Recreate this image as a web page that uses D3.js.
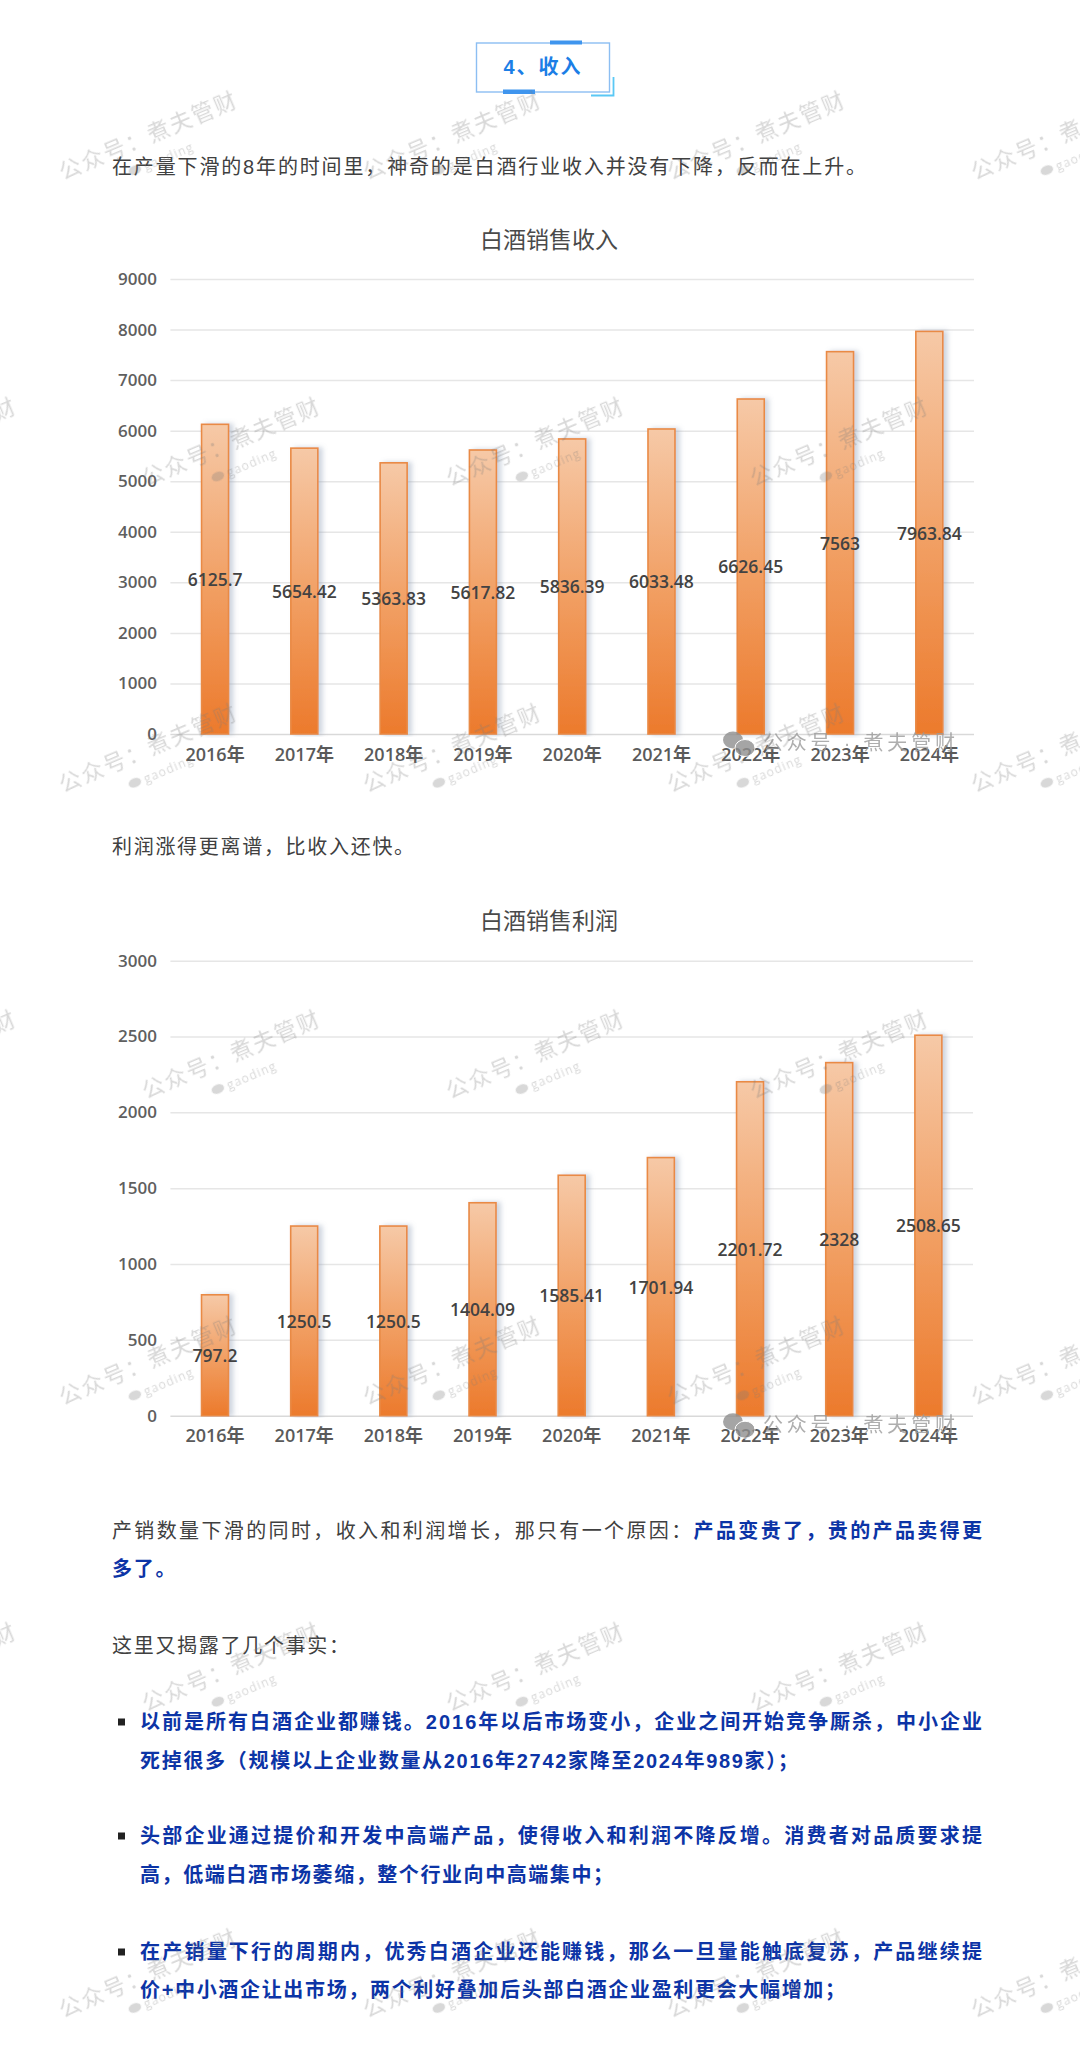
<!DOCTYPE html>
<html lang="zh">
<head>
<meta charset="utf-8">
<title>白酒销售收入与利润</title>
<script src="https://cdn.jsdelivr.net/npm/d3@7"></script>
<style>
html,body{margin:0;padding:0;background:#fff}
svg{display:block}
text{font-family:"Liberation Sans","Noto Sans CJK SC",sans-serif}
.num{font-family:"Open Sans","Noto Sans CJK SC",sans-serif;font-weight:600}
</style>
</head>
<body>
<svg id="page" width="1080" height="2051"></svg>
<script>
// ---------- data ----------
const years = ["2016年","2017年","2018年","2019年","2020年","2021年","2022年","2023年","2024年"];
const revenue = [6125.7,5654.42,5363.83,5617.82,5836.39,6033.48,6626.45,7563,7963.84];
const profit = [797.2,1250.5,1250.5,1404.09,1585.41,1701.94,2201.72,2328,2508.65];
const revenueTicks = [0,1000,2000,3000,4000,5000,6000,7000,8000,9000];
const profitTicks = [0,500,1000,1500,2000,2500,3000];
const titleRevenue = "白酒销售收入";
const titleProfit = "白酒销售利润";

const NORMAL = "#404040", BLUE = "#0c34a6";
const paragraphs = [
  {y:167, x:112, parts:[["在产量下滑的8年的时间里，神奇的是白酒行业收入并没有下降，反而在上升。",NORMAL,400]], end:866},
  {y:847, x:112, parts:[["利润涨得更离谱，比收入还快。",NORMAL,400]], ls:1.7},
  {y:1531, x:112, parts:[["产销数量下滑的同时，收入和利润增长，那只有一个原因：",NORMAL,400],["产品变贵了，贵的产品卖得更",BLUE,700]], end:982},
  {y:1569, x:112, parts:[["多了。",BLUE,700]], ls:1.7},
  {y:1646, x:112, parts:[["这里又揭露了几个事实：",NORMAL,400]], ls:1.7},
  {y:1722, x:140, bullet:true, parts:[["以前是所有白酒企业都赚钱。2016年以后市场变小，企业之间开始竞争厮杀，中小企业",BLUE,700]], end:982},
  {y:1761, x:140, parts:[["死掉很多（规模以上企业数量从2016年2742家降至2024年989家）；",BLUE,700]], end:798},
  {y:1836, x:140, bullet:true, parts:[["头部企业通过提价和开发中高端产品，使得收入和利润不降反增。消费者对品质要求提",BLUE,700]], end:982},
  {y:1875, x:140, parts:[["高，低端白酒市场萎缩，整个行业向中高端集中；",BLUE,700]], end:613},
  {y:1952, x:140, bullet:true, parts:[["在产销量下行的周期内，优秀白酒企业还能赚钱，那么一旦量能触底复苏，产品继续提",BLUE,700]], end:982},
  {y:1990, x:140, parts:[["价+中小酒企让出市场，两个利好叠加后头部白酒企业盈利更会大幅增加；",BLUE,700]], end:845}
];

// ---------- page ----------
const svg = d3.select("#page");
const defs = svg.append("defs");
const grad = defs.append("linearGradient").attr("id","barGrad")
  .attr("x1",0).attr("y1",0).attr("x2",0).attr("y2",1);
grad.append("stop").attr("offset","0%").attr("stop-color","#f6c9a7");
grad.append("stop").attr("offset","55%").attr("stop-color","#f19d60");
grad.append("stop").attr("offset","100%").attr("stop-color","#ec7a2c");
const shadow = defs.append("filter").attr("id","barShadow")
  .attr("x","-30%").attr("y","-5%").attr("width","170%").attr("height","106%");
shadow.append("feDropShadow").attr("dx",4).attr("dy",0).attr("stdDeviation",2.5)
  .attr("flood-color","#8496b0").attr("flood-opacity",0.4);

svg.append("rect").attr("width",1080).attr("height",2051).attr("fill","#fff");

// section heading
const head = svg.append("g");
head.append("rect").attr("x",476.5).attr("y",43).attr("width",133).attr("height",49)
  .attr("fill","none").attr("stroke","#8cbef2").attr("stroke-width",1.4);
head.append("rect").attr("x",550).attr("y",40.5).attr("width",32).attr("height",4).attr("fill","#3f95ee");
head.append("rect").attr("x",503).attr("y",89.5).attr("width",32).attr("height",4.5).attr("fill","#3f95ee");
head.append("path").attr("d","M591 95.5H613.5V77").attr("fill","none").attr("stroke","#5ac8f5").attr("stroke-width",1.8);
head.append("text").attr("x",543).attr("y",74).attr("text-anchor","middle")
  .attr("font-size",20).attr("font-weight",700).attr("letter-spacing",2).attr("fill","#1b7ee6").text("4、收入");

// paragraphs
paragraphs.forEach(p => {
  const t = svg.append("text").attr("x",p.x).attr("y",p.y+7).attr("font-size",20);
  p.parts.forEach(([s,c,w]) => t.append("tspan").attr("fill",c).attr("font-weight",w).text(s));
  const n = p.parts.reduce((a,q)=>a+q[0].length,0);
  if (p.end) {
    const natural = t.node().getComputedTextLength();
    t.attr("letter-spacing",(p.end-p.x-natural)/(n-1));
  } else t.attr("letter-spacing",p.ls);
  if (p.bullet) svg.append("rect").attr("x",118).attr("y",p.y-3.5).attr("width",7).attr("height",7).attr("fill","#222");
});

// ---------- charts ----------
function drawChart(cfg){
  const x = d3.scaleBand().domain(years).range([170.4,cfg.right]).paddingInner(0.6975).paddingOuter(0.349);
  const y = d3.scaleLinear().domain(d3.extent(cfg.ticks)).range([cfg.y0,cfg.y1]);
  const g = svg.append("g");

  g.append("text").attr("x",549).attr("y",cfg.y1-39.5+8).attr("text-anchor","middle")
    .attr("font-size",23).attr("fill","#4a4a4a").text(cfg.title);

  const gy = g.append("g").attr("transform","translate(170.4,0)")
    .call(d3.axisLeft(y).tickValues(cfg.ticks).tickSize(-(cfg.right-170.4)).tickPadding(13.5).tickFormat(d3.format("d")));
  gy.select(".domain").remove();
  gy.selectAll("line").attr("stroke",d=>d===0?"#d9d9d9":"#e6e6e6").attr("stroke-width",1.5);
  gy.selectAll("text").attr("class","num").attr("font-size",17).attr("fill","#5f5f5f");

  const gx = g.append("g").attr("transform",`translate(0,${cfg.y0})`)
    .call(d3.axisBottom(x).tickSize(0).tickPadding(14));
  gx.select(".domain").remove();
  gx.selectAll("text").attr("class","num").attr("font-size",18).attr("fill","#5a5a5a");

  g.append("g").selectAll("rect").data(cfg.values).join("rect")
    .attr("x",(d,i)=>x(years[i])).attr("width",x.bandwidth())
    .attr("y",d=>y(d)).attr("height",d=>y(0)-y(d))
    .attr("fill","url(#barGrad)").attr("stroke","#e98a45").attr("stroke-width",1.6)
    .attr("filter","url(#barShadow)");

  g.append("g").selectAll("text").data(cfg.values).join("text")
    .attr("class","num").attr("font-size",17.5).attr("fill","#424242")
    .attr("text-anchor","middle").attr("dominant-baseline","central")
    .attr("x",(d,i)=>x(years[i])+x.bandwidth()/2).attr("y",d=>y(d/2))
    .text(d=>d);

  // centred account mark
  const m = g.append("g").attr("transform",`translate(0,${cfg.y0})`).attr("fill","#8f8f8f").attr("opacity",0.8);
  m.append("ellipse").attr("cx",733).attr("cy",6).attr("rx",10).attr("ry",8.5);
  m.append("ellipse").attr("cx",745).attr("cy",14).attr("rx",10).attr("ry",8.5).attr("stroke","#fff").attr("stroke-width",1);
  m.append("text").attr("x",763).attr("y",16).attr("font-size",20).attr("letter-spacing",3.8).attr("fill","#9a9a9a").text("公众号 · 煮夫管财");
}
drawChart({title:titleRevenue,values:revenue,ticks:revenueTicks,y0:734,y1:279,right:974});
drawChart({title:titleProfit,values:profit,ticks:profitTicks,y0:1415.7,y1:960.7,right:973});

// ---------- repeating watermark ----------
const wm = svg.append("g").attr("opacity",0.3);
d3.range(7).forEach(r => {
  const wy = 180 + r*306.3;
  const x0 = r%2 ? -158 : 63;
  d3.range(4).forEach(c => {
    const w = wm.append("g").attr("transform",`translate(${x0+c*304},${wy}) rotate(-23)`).attr("fill","#7d7d7d");
    w.append("text").attr("font-size",22).attr("letter-spacing",2).text("公众号：煮夫管财");
    w.append("ellipse").attr("cx",70).attr("cy",19).attr("rx",6.5).attr("ry",4.5);
    w.append("text").attr("x",80).attr("y",24).attr("font-size",12).attr("letter-spacing",1.2)
      .style("font-family","Open Sans").text("gaoding");
  });
});
</script>
</body>
</html>
